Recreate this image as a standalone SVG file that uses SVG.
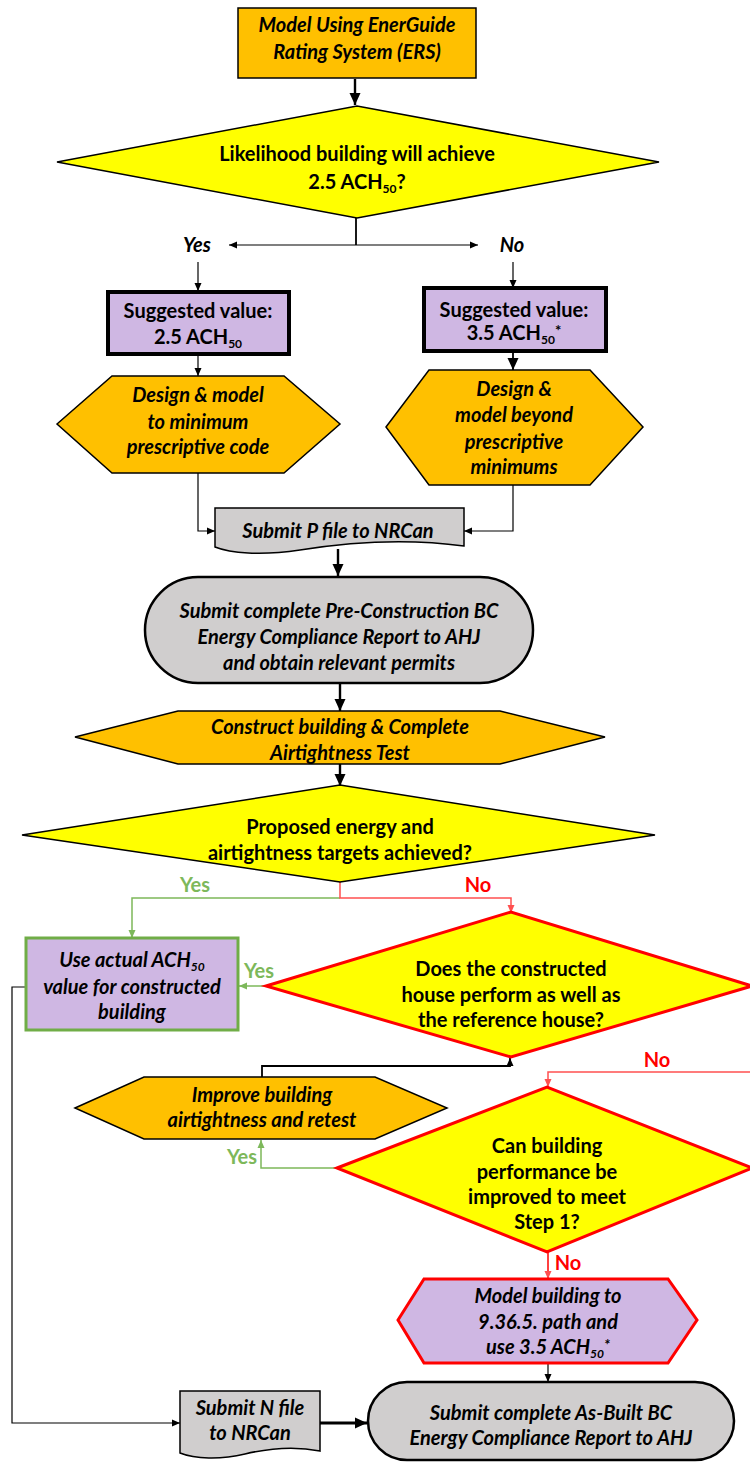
<svg xmlns="http://www.w3.org/2000/svg" width="750" height="1471" viewBox="0 0 750 1471">
<defs>
<style>
.t{font-family:Lato,"Liberation Sans",sans-serif;font-weight:bold;font-size:20px;text-anchor:middle;fill:#000}
.i{font-style:italic}
.sub{font-size:12px}
.orange{fill:#FFC000;stroke:#000;stroke-width:1.5}
.yellow{fill:#FFFF00;stroke:#000;stroke-width:1.5}
.yellowR{fill:#FFFF00;stroke:#FF0000;stroke-width:3}
.purple{fill:#CFB7E3}
.gray{fill:#D0CECE;stroke:#000}
.c{fill:none;stroke:#000;stroke-width:1.2}
.ck{fill:none;stroke:#000;stroke-width:2.4}
.cg{fill:none;stroke:#7DB85A;stroke-width:1.5}
.cr{fill:none;stroke:#FF5050;stroke-width:1.5}
.lg{fill:#7DB85A}
.lr{fill:#FF0000}
</style>
<marker id="a" markerUnits="userSpaceOnUse" markerWidth="10" markerHeight="10" refX="8" refY="5" orient="auto-start-reverse"><path d="M0,1.5 L8,5 L0,8.5 Z" fill="#000"/></marker>
<marker id="ak" markerUnits="userSpaceOnUse" markerWidth="14" markerHeight="14" refX="12" refY="7" orient="auto"><path d="M0,1.5 L12,7 L0,12.5 Z" fill="#000"/></marker>
<marker id="ag" markerUnits="userSpaceOnUse" markerWidth="10" markerHeight="10" refX="8" refY="5" orient="auto"><path d="M0,1.5 L8,5 L0,8.5 Z" fill="#7DB85A"/></marker>
<marker id="ar" markerUnits="userSpaceOnUse" markerWidth="10" markerHeight="10" refX="8" refY="5" orient="auto"><path d="M0,1.5 L8,5 L0,8.5 Z" fill="#FF5050"/></marker>
</defs>

<g id="connectors">
<line class="ck" x1="355" y1="79" x2="355" y2="105" marker-end="url(#ak)"/>
<line class="ck" x1="356" y1="218" x2="356" y2="245" style="stroke-width:1.8"/>
<line class="c" x1="229" y1="245" x2="478" y2="245" marker-start="url(#a)" marker-end="url(#a)"/>
<line class="c" x1="198" y1="262" x2="198" y2="291" marker-end="url(#a)"/>
<line class="c" x1="513" y1="262" x2="513" y2="288" marker-end="url(#a)"/>
<line class="c" x1="198" y1="354" x2="198" y2="376" marker-end="url(#a)"/>
<line class="ck" x1="513" y1="352" x2="513" y2="370" style="stroke-width:1.8" marker-end="url(#ak)"/>
<path class="c" d="M198,473 V531 H215" marker-end="url(#a)"/>
<path class="c" d="M513,485 V531 H464" marker-end="url(#a)"/>
<line class="ck" x1="338" y1="549" x2="338" y2="576" marker-end="url(#ak)"/>
<line class="ck" x1="340" y1="684" x2="340" y2="711" marker-end="url(#ak)"/>
<line class="ck" x1="340" y1="764" x2="340" y2="786" marker-end="url(#ak)"/>
<path class="cg" d="M340,898 H132 V938" marker-end="url(#ag)"/>
<path class="cr" d="M340,882 V898 H511 V913" marker-end="url(#ar)"/>
<line class="cg" x1="266" y1="986" x2="239" y2="986" marker-end="url(#ag)"/>
<path class="c" d="M25,987 H12 V1423 H180" marker-end="url(#a)"/>
<path class="c" d="M262,1077 V1066 H510 V1058" style="stroke-width:1.8" marker-end="url(#a)"/>
<path class="cr" d="M750,1072 H548 V1087" marker-end="url(#ar)"/>
<path class="cg" d="M337,1168 H261 V1140" marker-end="url(#ag)"/>
<line class="cr" x1="548" y1="1252" x2="548" y2="1279" style="stroke:#FF0000" marker-end="url(#ar)"/>
<line class="c" x1="548" y1="1363" x2="548" y2="1382" marker-end="url(#a)"/>
<line class="ck" x1="320" y1="1423" x2="367" y2="1423" style="stroke-width:3" marker-end="url(#ak)"/>
</g>

<g id="labels">
<text class="t i" x="197" y="252">Yes</text>
<text class="t i" x="512" y="252">No</text>
<text class="t lg" x="195" y="892">Yes</text>
<text class="t lr" x="478" y="892">No</text>
<text class="t lg" x="259" y="978">Yes</text>
<text class="t lr" x="657" y="1067">No</text>
<text class="t lg" x="242" y="1164">Yes</text>
<text class="t lr" x="568" y="1270">No</text>
</g>

<g id="n1">
<rect class="orange" x="238" y="8" width="238" height="70"/>
<text class="t i" x="357" y="32">Model Using EnerGuide</text>
<text class="t i" x="357" y="59">Rating System (ERS)</text>
</g>

<g id="n2">
<polygon class="yellow" points="57,162 357,106 659,162 357,218"/>
<text class="t" x="357" y="161">Likelihood building will achieve</text>
<text class="t" x="357" y="189">2.5 ACH<tspan class="sub" dy="4">50</tspan><tspan dy="-4">?</tspan></text>
</g>

<g id="n3">
<rect class="purple" x="108" y="292" width="181" height="62" stroke="#000" stroke-width="4"/>
<text class="t" x="198" y="318">Suggested value:</text>
<text class="t" x="198" y="344">2.5 ACH<tspan class="sub" dy="4">50</tspan></text>
</g>

<g id="n4">
<rect class="purple" x="424" y="288" width="182" height="63" stroke="#000" stroke-width="4"/>
<text class="t" x="514" y="317">Suggested value:</text>
<text class="t" x="514" y="340">3.5 ACH<tspan class="sub" dy="4">50</tspan><tspan dy="-8" font-size="15">*</tspan></text>
</g>

<g id="n5">
<polygon class="orange" points="57,424 112,376 284,376 340,424 284,473 112,473"/>
<text class="t i" x="198" y="402">Design &amp; model</text>
<text class="t i" x="198" y="429">to minimum</text>
<text class="t i" x="198" y="454">prescriptive code</text>
</g>

<g id="n6">
<polygon class="orange" points="386,427 429,370 590,370 643,427 590,485 429,485"/>
<text class="t i" x="514" y="396">Design &amp;</text>
<text class="t i" x="514" y="422">model beyond</text>
<text class="t i" x="514" y="449">prescriptive</text>
<text class="t i" x="514" y="474">minimums</text>
</g>

<g id="n7">
<path class="gray" stroke-width="1.5" d="M215,508 H464 V546 C405,538 350,542 300,550 C260,556 230,553 215,547 Z"/>
<text class="t i" x="338" y="538">Submit P file to NRCan</text>
</g>

<g id="n8">
<rect class="gray" x="145" y="577" width="388" height="106" rx="53" stroke-width="2.5"/>
<text class="t i" x="339" y="618">Submit complete Pre-Construction BC</text>
<text class="t i" x="339" y="644">Energy Compliance Report to AHJ</text>
<text class="t i" x="339" y="670">and obtain relevant permits</text>
</g>

<g id="n9">
<polygon class="orange" points="75,737 178,711 500,711 605,737 500,764 178,764"/>
<text class="t i" x="340" y="734">Construct building &amp; Complete</text>
<text class="t i" x="340" y="760">Airtightness Test</text>
</g>

<g id="n10">
<polygon class="yellow" points="22,835 340,785 655,835 340,882"/>
<text class="t" x="340" y="834">Proposed energy and</text>
<text class="t" x="340" y="860">airtightness targets achieved?</text>
</g>

<g id="n11">
<rect class="purple" x="26" y="938" width="212" height="92" stroke="#70AD47" stroke-width="3"/>
<text class="t i" x="132" y="967">Use actual ACH<tspan class="sub" dy="4">50</tspan></text>
<text class="t i" x="132" y="994">value for constructed</text>
<text class="t i" x="132" y="1019">building</text>
</g>

<g id="n12">
<polygon class="yellowR" points="266,986 511,912 752,986 511,1057"/>
<text class="t" x="511" y="976">Does the constructed</text>
<text class="t" x="511" y="1002">house perform as well as</text>
<text class="t" x="511" y="1027">the reference house?</text>
</g>

<g id="n13">
<polygon class="orange" points="75,1108 144,1077 375,1077 447,1108 375,1139 144,1139"/>
<text class="t i" x="262" y="1102">Improve building</text>
<text class="t i" x="262" y="1127">airtightness and retest</text>
</g>

<g id="n14">
<polygon class="yellowR" points="337,1168 547,1087 752,1168 547,1252"/>
<text class="t" x="547" y="1153">Can building</text>
<text class="t" x="547" y="1179">performance be</text>
<text class="t" x="547" y="1204">improved to meet</text>
<text class="t" x="547" y="1229">Step 1?</text>
</g>

<g id="n15">
<polygon class="purple" stroke="#FF0000" stroke-width="3" points="398,1320 424,1279 668,1279 697,1320 668,1363 424,1363"/>
<text class="t i" x="548" y="1303">Model building to</text>
<text class="t i" x="548" y="1329">9.36.5. path and</text>
<text class="t i" x="548" y="1354">use 3.5 ACH<tspan class="sub" dy="4">50</tspan><tspan dy="-8" font-size="15">*</tspan></text>
</g>

<g id="n16">
<path class="gray" stroke-width="1.5" d="M180,1391 H320 V1451 C295,1446 270,1448 245,1454 C220,1460 195,1459 180,1453 Z"/>
<text class="t i" x="250" y="1415">Submit N file</text>
<text class="t i" x="250" y="1440">to NRCan</text>
</g>

<g id="n17">
<rect class="gray" x="368" y="1382" width="366" height="78" rx="39" stroke-width="2.5"/>
<text class="t i" x="551" y="1420">Submit complete As-Built BC</text>
<text class="t i" x="551" y="1445">Energy Compliance Report to AHJ</text>
</g>
</svg>
